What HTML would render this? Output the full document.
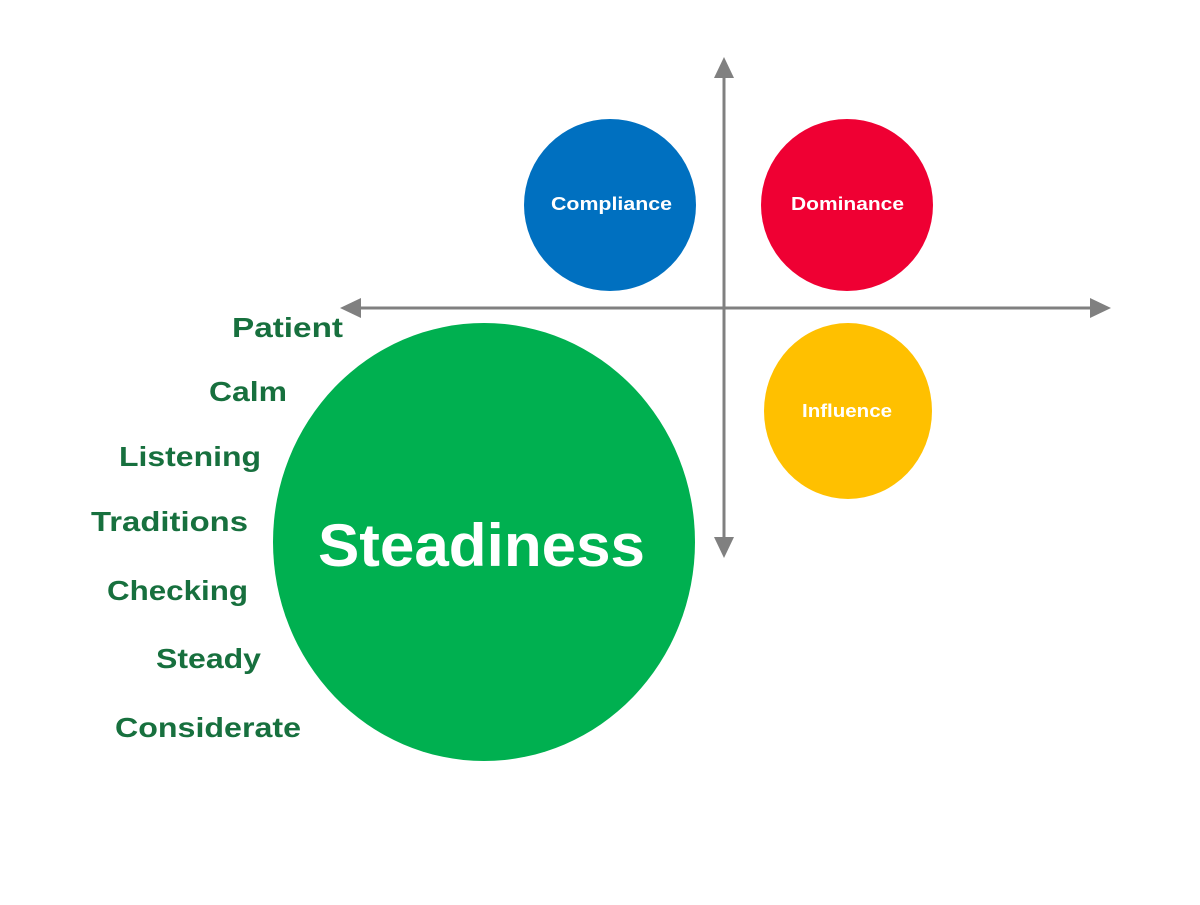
<!DOCTYPE html>
<html><head><style>html,body{margin:0;padding:0;background:#fff}</style></head><body>
<svg width="1200" height="900" xmlns="http://www.w3.org/2000/svg" font-family="Liberation Sans, sans-serif" font-weight="bold">
<rect width="1200" height="900" fill="#fff"/>
<g stroke="#808080" stroke-width="3">
<line x1="724" y1="72" x2="724" y2="543"/>
<line x1="354" y1="308" x2="1096" y2="308"/>
</g>
<g fill="#808080">
<polygon points="724,57 714,78 734,78"/>
<polygon points="724,558 714,537 734,537"/>
<polygon points="340,308 361,298 361,318"/>
<polygon points="1111,308 1090,298 1090,318"/>
</g>
<circle cx="610" cy="205" r="86" fill="#0070c0"/>
<circle cx="847" cy="205" r="86" fill="#ef0033"/>
<ellipse cx="848" cy="411" rx="84" ry="88" fill="#ffc000"/>
<ellipse cx="484" cy="542" rx="211" ry="219" fill="#00b050"/>
<g fill="#fff">
<text x="551" y="210" font-size="18" textLength="121" lengthAdjust="spacingAndGlyphs">Compliance</text>
<text x="791" y="210" font-size="18" textLength="113" lengthAdjust="spacingAndGlyphs">Dominance</text>
<text x="802" y="417" font-size="18" textLength="90" lengthAdjust="spacingAndGlyphs">Influence</text>
<text x="318" y="566" font-size="60" textLength="327" lengthAdjust="spacingAndGlyphs">Steadiness</text>
</g>
<g fill="#17703e" font-size="28">
<text x="232" y="337" textLength="111" lengthAdjust="spacingAndGlyphs">Patient</text>
<text x="209" y="401" textLength="78" lengthAdjust="spacingAndGlyphs">Calm</text>
<text x="119" y="466" textLength="142" lengthAdjust="spacingAndGlyphs">Listening</text>
<text x="91" y="531" textLength="157" lengthAdjust="spacingAndGlyphs">Traditions</text>
<text x="107" y="600" textLength="141" lengthAdjust="spacingAndGlyphs">Checking</text>
<text x="156" y="668" textLength="105" lengthAdjust="spacingAndGlyphs">Steady</text>
<text x="115" y="737" textLength="186" lengthAdjust="spacingAndGlyphs">Considerate</text>
</g>
</svg>
</body></html>
